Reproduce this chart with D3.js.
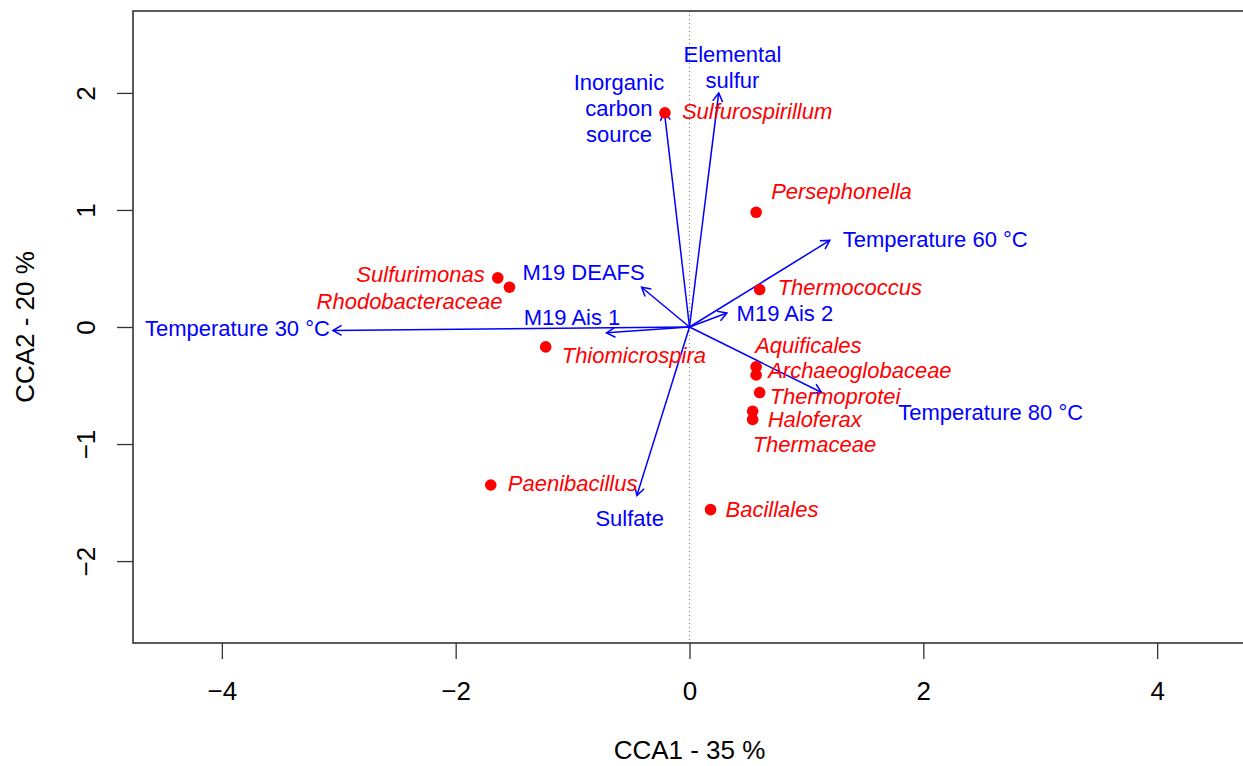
<!DOCTYPE html>
<html>
<head>
<meta charset="utf-8">
<script src="https://cdn.jsdelivr.net/npm/d3@7"></script>
<style>
  html, body { margin: 0; padding: 0; background: #fff; }
  svg { display: block; font-family: "Liberation Sans", Arial, sans-serif; }
</style>
</head>
<body>
<svg id="chart" width="1243" height="766"></svg>
<script>
// ---------------- data ----------------
const species = ["Sulfurospirillum", "Persephonella", "Thermococcus", "Sulfurimonas",
  "Rhodobacteraceae", "Thiomicrospira", "Aquificales", "Archaeoglobaceae",
  "Thermoprotei", "Haloferax", "Thermaceae", "Paenibacillus", "Bacillales"];
const speciesCCA1 = [-0.21, 0.57, 0.60, -1.64, -1.54, -1.23, 0.57, 0.57, 0.60, 0.54, 0.54, -1.70, 0.18];
const speciesCCA2 = [1.83, 0.98, 0.32, 0.42, 0.34, -0.17, -0.34, -0.41, -0.56, -0.72, -0.79, -1.35, -1.56];

const envVars = ["Temperature 30 °C", "M19 Ais 1", "M19 DEAFS", "Inorganic\ncarbon\nsource",
  "Elemental\nsulfur", "Temperature 60 °C", "M19 Ais 2", "Temperature 80 °C", "Sulfate"];
const envCCA1 = [-3.05, -0.71, -0.41, -0.215, 0.25, 1.20, 0.32, 1.13, -0.45];
const envCCA2 = [-0.03, -0.05, 0.34, 1.84, 2.00, 0.74, 0.12, -0.56, -1.44];

const xTicks = [-4, -2, 0, 2, 4];
const yTicks = [-2, -1, 0, 1, 2];
const xTitle = "CCA1 - 35 %";
const yTitle = "CCA2 - 20 %";

// ---------------- layout (label placement, pixels) ----------------
const speciesLabelLayout = [
  [17, -2, "start"], [15, -21, "start"], [18, -2, "start"], [-13, -4, "end"],
  [-7, 14, "end"], [16, 8, "start"], [-1, -22, "start"], [12, -5, "start"],
  [10, 4, "start"], [15, 8, "start"], [0, 25, "start"], [17, -2, "start"], [15, 0, "start"]
];
const envLabelLayout = [
  [-3, -2, "end"], [-34.5, -15.7, "middle"], [-58, -15, "middle"], [-45.4, -30, "middle"],
  [13.7, -39.3, "middle"], [13, -1.7, "start"], [9.7, 0.3, "start"], [76.6, 20, "start"],
  [-7.2, 22.7, "middle"]
];

// ---------------- drawing ----------------
const svg = d3.select("#chart");
const pLeft = 133, pRight = 1246, pTop = 11, pBottom = 643;
const x = d3.scaleLinear().domain([-4.76, 4.76]).range([pLeft, pRight]);
const y = d3.scaleLinear().domain([-2.70, 2.70]).range([pBottom, pTop]);

const labelSize = 22, axisSize = 26;
const red = "#ff0000", blue = "#0000ff";

// dotted zero line
svg.append("line")
  .attr("x1", x(0)).attr("x2", x(0)).attr("y1", pTop).attr("y2", pBottom)
  .attr("stroke", "#777").attr("stroke-width", 1).attr("stroke-dasharray", "1,3");

// x axis
const fmt = d => (d < 0 ? "\u2212" + Math.abs(d) : String(d));
const xAxis = d3.axisBottom(x).tickValues(xTicks).tickSize(16).tickFormat(fmt);
const gx = svg.append("g").attr("transform", `translate(0,${pBottom})`).call(xAxis);
gx.select(".domain").remove();
gx.selectAll(".tick line").attr("stroke", "#333").attr("stroke-width", 1.3);
gx.selectAll(".tick text").attr("font-size", axisSize).attr("fill", "#000")
  .attr("font-family", "'Liberation Sans', Arial, sans-serif")
  .attr("y", 39).attr("dy", "0.71em");

// y axis
const yAxis = d3.axisLeft(y).tickValues(yTicks).tickSize(16).tickFormat(fmt);
const gy = svg.append("g").attr("transform", `translate(${pLeft},0)`).call(yAxis);
gy.select(".domain").remove();
gy.selectAll(".tick line").attr("stroke", "#333").attr("stroke-width", 1.3);
gy.selectAll(".tick text").attr("font-size", axisSize).attr("fill", "#000")
  .attr("font-family", "'Liberation Sans', Arial, sans-serif")
  .attr("x", null).attr("dy", null)
  .attr("text-anchor", "middle")
  .attr("transform", "translate(-38,0) rotate(-90)");

// box
svg.append("rect")
  .attr("x", pLeft).attr("y", pTop).attr("width", pRight - pLeft).attr("height", pBottom - pTop)
  .attr("fill", "none").attr("stroke", "#333").attr("stroke-width", 1.6);

// axis titles
svg.append("text").attr("x", (pLeft + pRight) / 2).attr("y", 759)
  .attr("text-anchor", "middle").attr("font-size", axisSize).text(xTitle);
svg.append("text").attr("transform", `translate(34,${(pTop + pBottom) / 2}) rotate(-90)`)
  .attr("text-anchor", "middle").attr("font-size", axisSize).text(yTitle);

// env arrows
const envData = envVars.map((name, i) => ({ name, cx: envCCA1[i], cy: envCCA2[i], lay: envLabelLayout[i] }));
const x0 = x(0), y0 = y(0);
const headLen = 10, headAng = Math.PI / 6;
const gArrows = svg.append("g");
envData.forEach(d => {
  const tx = x(d.cx), ty = y(d.cy);
  const ang = Math.atan2(ty - y0, tx - x0);
  gArrows.append("line").attr("x1", x0).attr("y1", y0).attr("x2", tx).attr("y2", ty)
    .attr("stroke", blue).attr("stroke-width", 1.5);
  const p1 = [tx - headLen * Math.cos(ang - headAng), ty - headLen * Math.sin(ang - headAng)];
  const p2 = [tx - headLen * Math.cos(ang + headAng), ty - headLen * Math.sin(ang + headAng)];
  gArrows.append("path")
    .attr("d", `M${p1[0]},${p1[1]}L${tx},${ty}L${p2[0]},${p2[1]}`)
    .attr("fill", "none").attr("stroke", blue).attr("stroke-width", 1.5);
});

// species points
const spData = species.map((name, i) => ({ name, cx: speciesCCA1[i], cy: speciesCCA2[i], lay: speciesLabelLayout[i] }));
svg.append("g").selectAll("circle").data(spData).join("circle")
  .attr("cx", d => x(d.cx)).attr("cy", d => y(d.cy)).attr("r", 5.8).attr("fill", red);

// species labels
svg.append("g").selectAll("text").data(spData).join("text")
  .attr("x", d => x(d.cx) + d.lay[0]).attr("y", d => y(d.cy) + d.lay[1])
  .attr("dy", "0.358em").attr("text-anchor", d => d.lay[2])
  .attr("font-size", labelSize).attr("font-style", "italic").attr("fill", red)
  .text(d => d.name);

// env labels
const lineH = 26.3;
envData.forEach(d => {
  const lines = d.name.split("\n");
  const t = svg.append("text")
    .attr("text-anchor", d.lay[2]).attr("font-size", labelSize).attr("fill", blue);
  lines.forEach((ln, k) => {
    t.append("tspan")
      .attr("x", x(d.cx) + d.lay[0])
      .attr("y", y(d.cy) + d.lay[1] + k * lineH)
      .attr("dy", "0.358em")
      .text(ln);
  });
});
</script>
</body>
</html>
